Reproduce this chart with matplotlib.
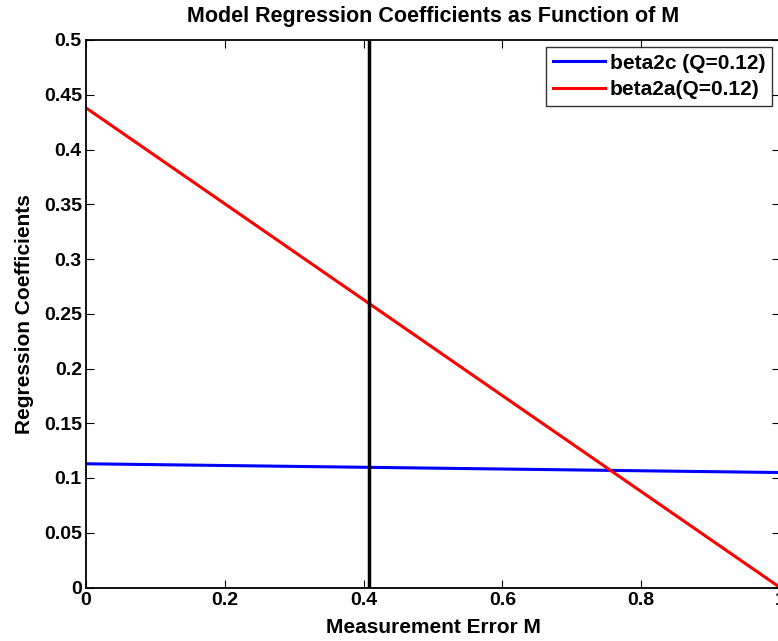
import numpy as np
import matplotlib
matplotlib.use("Agg")
from matplotlib import pyplot as plt

# dados
m_vals = [0.0, 1.0]
beta2c = [0.113, 0.105]
beta2a = [0.438, 0.0]
m_chosen = 0.408

xticks = [0, 0.2, 0.4, 0.6, 0.8, 1]
xtick_labels = ['0', '0.2', '0.4', '0.6', '0.8', '1']
yticks = [0, 0.05, 0.1, 0.15, 0.2, 0.25, 0.3, 0.35, 0.4, 0.45, 0.5]
ytick_labels = ['0', '0.05', '0.1', '0.15', '0.2', '0.25', '0.3', '0.35', '0.4', '0.45', '0.5']

plt.rcParams['font.family'] = ['Liberation Sans', 'DejaVu Sans']
plt.rcParams['font.weight'] = 'bold'

fig = plt.figure(figsize=(7.78, 6.41), dpi=100)
ax = fig.add_axes([86 / 778, 53.5 / 641, 694 / 778, 547.5 / 641])

ax.plot(m_vals, beta2c, color='#0000ff', lw=2.2, label='beta2c (Q=0.12)')
ax.plot(m_vals, beta2a, color='#ff0000', lw=2.2, label='beta2a(Q=0.12)')
ax.axvline(m_chosen, color='black', lw=2.5)

ax.set_xlim(0, 1)
ax.set_ylim(0, 0.5)
ax.set_xticks(xticks)
ax.set_xticklabels(xtick_labels)
ax.set_yticks(yticks)
ax.set_yticklabels(ytick_labels)
ax.tick_params(direction='in', top=True, right=True, labelsize=14, length=6, width=0.8, pad=3)
for s in ax.spines.values():
    s.set_linewidth(1.3)

ax.set_title('Model Regression Coefficients as Function of M', fontsize=15.5, fontweight='bold', pad=13)
ax.set_xlabel('Measurement Error M', fontsize=15, fontweight='bold', labelpad=7)
ax.set_ylabel('Regression Coefficients', fontsize=15, fontweight='bold', labelpad=7)

leg = ax.legend(loc='upper right', bbox_to_anchor=(772 / 694 - 86 / 694, 1 - 7 / 547.5),
                fontsize=15, frameon=True, fancybox=False, handlelength=2.5,
                borderaxespad=0, borderpad=0.32, labelspacing=0.35, handletextpad=0.25)
leg.get_frame().set_edgecolor('black')
leg.get_frame().set_linewidth(1.0)

fig.savefig('out.png', dpi=100)
